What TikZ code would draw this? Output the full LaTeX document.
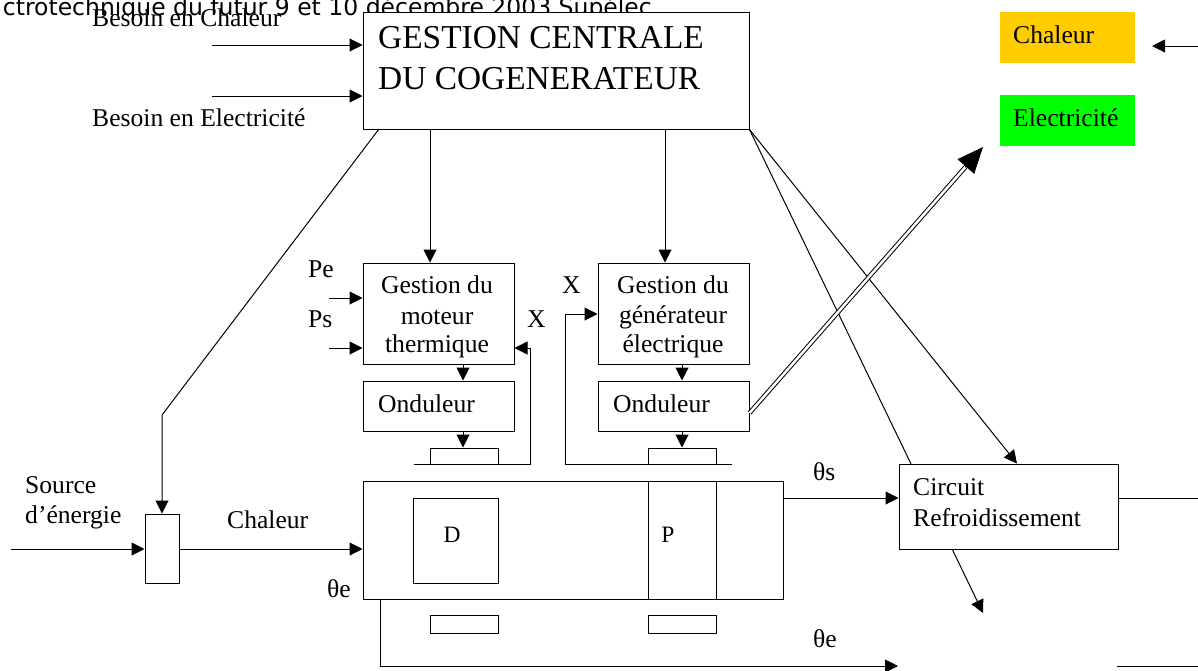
\documentclass[tikz,border=0pt]{standalone}
\usepackage{fontspec}
\setmainfont{Liberation Serif}
\newfontfamily\hdrfont{DejaVu Sans}
\usetikzlibrary{arrows.meta,calc}
\definecolor{orangebox}{RGB}{255,204,0}
\definecolor{greenbox}{RGB}{0,255,0}
\pgfdeclarelayer{bg}
\pgfsetlayers{bg,main}
\begin{document}
\begin{tikzpicture}[x=1pt,y=-1pt,
  box/.style={draw, line width=1pt, inner sep=0pt, fill=white},
  colbox/.style={inner sep=0pt},
  arr/.style={-{Triangle[length=13pt,width=13pt]}, line width=1pt},
  ln/.style={line width=1pt},
  lbl/.style={anchor=base west, inner sep=0pt, font=\fontsize{25.6}{30}\selectfont},
  ctr/.style={anchor=base, inner sep=0pt, font=\fontsize{25.6}{30}\selectfont},
  big/.style={anchor=base west, inner sep=0pt, font=\fontsize{33.4}{40}\selectfont}]
\useasboundingbox (0,0) rectangle (1198,670);

% header
\node[anchor=base east, inner sep=0pt, font=\hdrfont\fontsize{23.5}{28}\selectfont] (hdr) at (652,15) {ctrotechnique du futur 9 et 10 décembre 2003 Supélec};

% central management
\node[box, minimum width=386pt, minimum height=117pt] (gc) at (556,70.5) {};
\node[big] (gct1) at (378,48) {GESTION CENTRALE};
\node[big] (gct2) at (378,89) {DU COGENERATEUR};
\node[lbl] (bcht) at (92,26) {Besoin en Chaleur};
\node[lbl] (belt) at (92,126) {Besoin en Electricité};

% outputs
\node[colbox, fill=orangebox, minimum width=135pt, minimum height=51pt] (chal) at (1067.5,37.5) {};
\node[lbl] (chalt) at (1013,43) {Chaleur};
\node[colbox, fill=greenbox, minimum width=135pt, minimum height=51pt] (elec) at (1067.5,120.5) {};
\node[lbl] (elect) at (1013,126) {Electricité};

% engine management
\node[box, minimum width=151pt, minimum height=101pt] (gm) at (438.5,313.5) {};
\node[ctr] (gmt1) at (437,293) {Gestion du};
\node[ctr] (gmt2) at (437,324) {moteur};
\node[ctr] (gmt3) at (437,352) {thermique};
\node[box, minimum width=151pt, minimum height=50pt] (om) at (438.5,406) {};
\node[lbl] (omt) at (378,412) {Onduleur};
\node[box, minimum width=68pt, minimum height=16pt] (rm) at (464,456) {};

% generator management
\node[box, minimum width=151pt, minimum height=101pt] (gg) at (673.5,313.5) {};
\node[ctr] (ggt1) at (673,293) {Gestion du};
\node[ctr] (ggt2) at (673,323) {générateur};
\node[ctr] (ggt3) at (673,352) {électrique};
\node[box, minimum width=151pt, minimum height=50pt] (og) at (673.5,406) {};
\node[lbl] (ogt) at (613,412) {Onduleur};
\node[box, minimum width=68pt, minimum height=16pt] (rg) at (682,456) {};

\node[lbl] (pe) at (308,277) {Pe};
\node[lbl] (ps) at (308,327) {Ps};
\node[lbl] (x1) at (527,327) {X};
\node[lbl] (x2) at (562,293) {X};

% energy source and engine
\node[box, minimum width=34pt, minimum height=69pt] (src) at (162,548.5) {};
\node[lbl] (srct1) at (25,493) {Source};
\node[lbl] (srct2) at (25,523) {d’énergie};
\node[lbl] (chl) at (227,528) {Chaleur};
\node[box, minimum width=420pt, minimum height=118pt] (eng) at (573,540) {};
\node[box, minimum width=85pt, minimum height=85pt] (dbox) at (455.5,540.5) {};
\node[ctr, font=\fontsize{23.5}{28}\selectfont] (dt) at (452,542) {D};
\node[box, minimum width=68pt, minimum height=118pt] (pbox) at (682,540) {};
\node[ctr, font=\fontsize{23.5}{28}\selectfont] (pt) at (668,542) {P};
\node[box, minimum width=68pt, minimum height=18pt] (rm2) at (464,624) {};
\node[box, minimum width=68pt, minimum height=18pt] (rg2) at (682,624) {};
\node[lbl] (tel) at (327,597) {θe};

% cooling circuit
\node[box, minimum width=219pt, minimum height=85pt] (circ) at (1008.5,506.5) {};
\node[lbl] (circt1) at (913,495) {Circuit};
\node[lbl] (circt2) at (913,526) {Refroidissement};
\node[lbl] (tst) at (813,480) {θs};
\node[lbl] (tet) at (813,647) {θe};

% ---- connectors ----
\coordinate (bch) at (212,45);
\coordinate (bel) at (212,96);
\draw[arr] (bch) -- (bch -| gc.west);
\draw[arr] (bel) -- (bel -| gc.west);

\coordinate (d0) at (379,129);
\coordinate (d1) at (162,415);
\draw[arr] (d0) -- (d1) -- (src.north);

\coordinate (xa) at (430,0);
\coordinate (xb) at (665,0);
\coordinate (xc) at (463,0);
\draw[arr] (gc.south -| xa) -- (gm.north -| xa);
\draw[arr] (gc.south -| xb) -- (gg.north -| xb);
\draw[arr] (gm.south -| xc) -- (om.north -| xc);
\draw[arr] (om.south -| xc) -- (rm.north -| xc);
\draw[arr] (gg.south -| rg.north) -- (og.north -| rg.north);
\draw[arr] (og.south -| rg.north) -- (rg.north);

\coordinate (xe) at (1017,0);
\coordinate (cend) at (983,613);
\draw[arr] (gc.south east) -- (circ.north -| xe);
\begin{pgfonlayer}{bg}
\draw[arr] (gc.south east) -- (cend);
\end{pgfonlayer}

\coordinate (ds) at ($(og.east)+(0,7)$);
\coordinate (dtip) at (983,147);
\draw[line width=1pt, double, double distance=2.5pt, shorten >=22pt] (ds) -- (dtip);
\draw[-{Triangle[length=26pt,width=22pt]}, line width=1pt] ($(dtip)!27pt!(ds)$) -- (dtip);

\coordinate (pa) at (329,298);
\coordinate (psa) at (329,348);
\draw[arr] (pa) -- (pa -| gm.west);
\draw[arr] (psa) -- (psa -| gm.west);

\coordinate (bl1) at (414,464);
\coordinate (br1) at (530,464);
\coordinate (fy1) at (0,348);
\draw[arr] (bl1) -- (br1) -- (br1 |- fy1) -- (gm.east |- fy1);
\coordinate (bl2) at (732,464);
\coordinate (br2) at (565,464);
\coordinate (fy2) at (0,314);
\draw[arr] (bl2) -- (br2) -- (br2 |- fy2) -- (gg.west |- fy2);

\coordinate (s0) at (11,549);
\draw[arr] (s0) -- (s0 -| src.west);
\draw[arr] (src.east |- s0) -- (eng.west |- s0);

\coordinate (ts) at (0,498);
\coordinate (ce) at (1198,498);
\draw[arr] (eng.east |- ts) -- (circ.west |- ts);
\draw[ln] (circ.east |- ce) -- (ce);

\coordinate (te0) at (380,0);
\coordinate (te1) at (0,666);
\coordinate (te2) at (898,666);
\coordinate (te3) at (1117,666);
\coordinate (te4) at (1198,666);
\draw[arr] (eng.south -| te0) -- (te0 |- te1) -- (te2);
\draw[ln] (te3) -- (te4);

\coordinate (ca0) at (1198,46);
\coordinate (ca1) at (1152,46);
\draw[arr] (ca0) -- (ca1);
\end{tikzpicture}
\end{document}
